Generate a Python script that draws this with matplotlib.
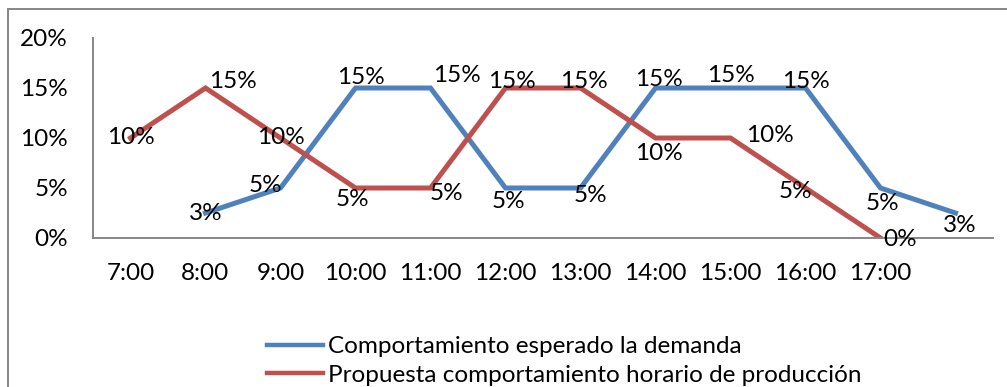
import math
import matplotlib
matplotlib.use("Agg")
import matplotlib.pyplot as plt
from matplotlib.lines import Line2D
from matplotlib.ticker import PercentFormatter

hours = ['7:00', '8:00', '9:00', '10:00', '11:00', '12:00', '13:00',
         '14:00', '15:00', '16:00', '17:00', '']
demanda = [None, 0.025, 0.05, 0.15, 0.15, 0.05, 0.05, 0.15, 0.15, 0.15, 0.05, 0.025]
produccion = [0.10, 0.15, 0.10, 0.05, 0.05, 0.15, 0.15, 0.10, 0.10, 0.05, 0.0]
names = ['Comportamiento esperado la demanda',
         'Propuesta comportamiento horario de producción']

# label offsets in pixels, one per point
off_dem = [None, (0, -1), (-15, 2), (5, 10), (26, 12), (3, -14), (10, -8),
           (3, 8), (0, 12), (0, 6), (2, -15), (4, -12)]
off_prod = [(0, 0), (27, 6), (0, 0), (-3, -12), (16, -5), (6, 6), (3, 6),
            (3, -15), (39, 2), (-10, -4), (20, -2)]

BLUE = '#4F81BD'
RED = '#C0504D'
GRAY = '#868686'
FS = 17.5

plt.rcParams['font.family'] = ['Lato', 'DejaVu Sans']

fig = plt.figure(figsize=(10.07, 3.87), dpi=100)
ax = fig.add_axes([93 / 1007, 149 / 387, 900 / 1007, 200 / 387])

def pct(v):
    return f"{math.floor(v * 100 + 0.5)}%"

xs_d = [i for i, v in enumerate(demanda) if v is not None]
ys_d = [demanda[i] for i in xs_d]
xs_p = list(range(len(produccion)))

ax.plot(xs_d, ys_d, color=BLUE, lw=3.6, solid_joinstyle='miter', label=names[0])
ax.plot(xs_p, produccion, color=RED, lw=3.6, solid_joinstyle='miter', label=names[1])

for i in xs_d:
    ax.annotate(pct(demanda[i]), (i, demanda[i]), xytext=off_dem[i],
                textcoords='offset pixels', ha='center', va='center', fontsize=FS)
for i in xs_p:
    ax.annotate(pct(produccion[i]), (i, produccion[i]), xytext=off_prod[i],
                textcoords='offset pixels', ha='center', va='center', fontsize=FS)

ax.set_xlim(-0.5, len(hours) - 0.5)
ax.set_ylim(0, 0.2)
ax.set_xticks(range(len(hours)))
ax.set_xticklabels(hours)
ax.set_yticks([0, 0.05, 0.10, 0.15, 0.20])
ax.yaxis.set_major_formatter(PercentFormatter(1.0, decimals=0))
ax.tick_params(length=0, labelsize=FS)
ax.tick_params(axis='y', pad=18)
ax.tick_params(axis='x', pad=18)

for s in ['top', 'right']:
    ax.spines[s].set_visible(False)
for s in ['left', 'bottom']:
    ax.spines[s].set_color(GRAY)
    ax.spines[s].set_linewidth(1.4)

leg = fig.legend(loc='center left', bbox_to_anchor=(267 / 1007, 1 - 361 / 387),
                 frameon=False, fontsize=FS, handlelength=2.3, handletextpad=0.2,
                 borderpad=0, borderaxespad=0, labelspacing=0.3)
for h in leg.get_lines():
    h.set_linewidth(3.2)

# chart frame, its right and bottom edges fall outside the canvas
fig.add_artist(Line2D([8 / 1007, 1.0], [1 - 8.5 / 387] * 2, transform=fig.transFigure,
                      color=GRAY, lw=1.4))
fig.add_artist(Line2D([8 / 1007] * 2, [0, 1 - 8.5 / 387], transform=fig.transFigure,
                      color=GRAY, lw=1.4))

fig.savefig('out.png', dpi=100)
